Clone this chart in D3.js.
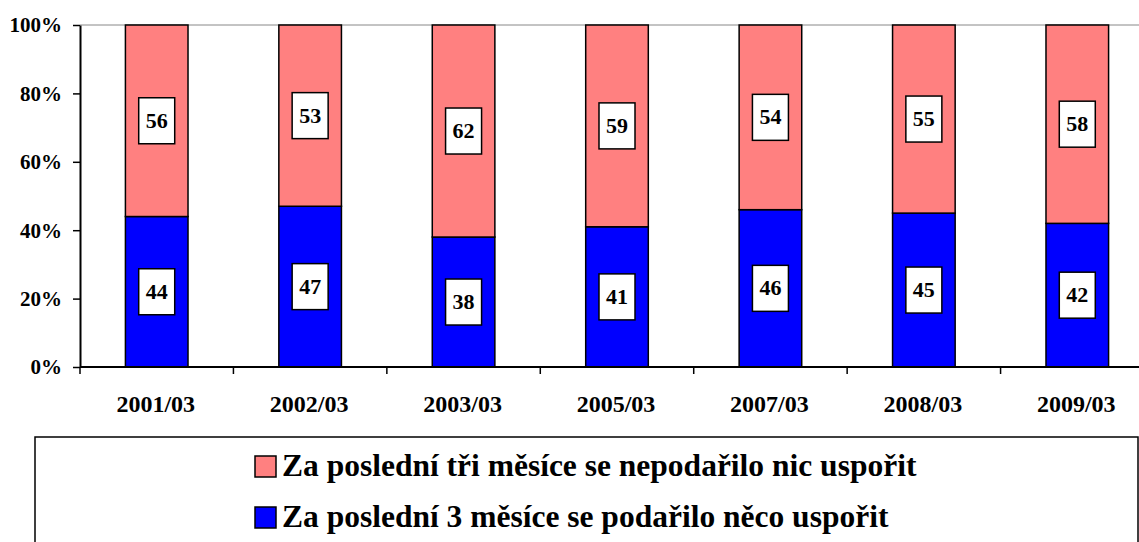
<!DOCTYPE html>
<html><head><meta charset="utf-8">
<script src="https://cdn.jsdelivr.net/npm/d3@7"></script>
<style>body{margin:0;background:#fff}svg{display:block}</style>
</head><body><svg id="c" width="1139" height="542"></svg>
<script>
const categories = ["2001/03","2002/03","2003/03","2005/03","2007/03","2008/03","2009/03"];
const saved = [44,47,38,41,46,45,42];
const notSaved = [56,53,62,59,54,55,58];
const yTicks = [0,20,40,60,80,100];
const legendLabels = ["Za poslední tři měsíce se nepodařilo nic uspořit","Za poslední 3 měsíce se podařilo něco uspořit"];
const colors = {saved:"#0000ff", notSaved:"#ff8080"};

(function(){
const FONT = "'Liberation Serif', 'Times New Roman', serif";
const svg = d3.select("#c");
const mLeft = 80, mRight = 1154, mTop = 25, mBottom = 367;
const x = d3.scaleBand().domain(categories).range([mLeft, mRight]).paddingInner(0.592).paddingOuter(0.296);
const xb = d3.scaleBand().domain(categories).range([mLeft, mRight]);
const y = d3.scaleLinear().domain([0,100]).range([mBottom, mTop]);

svg.append("line").attr("x1", mLeft).attr("x2", 1139).attr("y1", y(100)).attr("y2", y(100)).attr("stroke", "#888").attr("stroke-width", 1);

const data = categories.map((c,i)=>({c, s:saved[i], n:notSaved[i]}));
const g = svg.append("g");
data.forEach(d=>{
  g.append("rect").attr("x", x(d.c)).attr("width", x.bandwidth()).attr("y", y(d.s)).attr("height", y(0)-y(d.s))
    .attr("fill", colors.saved).attr("stroke","#000").attr("stroke-width",1.5);
  g.append("rect").attr("x", x(d.c)).attr("width", x.bandwidth()).attr("y", y(100)).attr("height", y(d.s)-y(100))
    .attr("fill", colors.notSaved).attr("stroke","#000").attr("stroke-width",1.5);
});
data.forEach(d=>{
  const cx = x(d.c) + x.bandwidth()/2;
  [[d.s/2, d.s],[d.s + d.n/2, d.n]].forEach(([pos,val])=>{
    const cy = y(pos);
    g.append("rect").attr("x", cx-18).attr("y", cy-23).attr("width", 36).attr("height", 46)
      .attr("fill","#fff").attr("stroke","#000").attr("stroke-width",1.5);
    g.append("text").attr("x", cx).attr("y", cy+7).attr("text-anchor","middle")
      .style("font-family",FONT).style("font-weight","bold").style("font-size","22px").text(val);
  });
});

const yAxis = d3.axisLeft(y).tickValues(yTicks).tickFormat(d=>d+"%").tickSize(7).tickSizeOuter(0);
const ya = svg.append("g").attr("transform",`translate(${mLeft},0)`).call(yAxis);
ya.select(".domain").attr("stroke","#000").attr("stroke-width",2);
ya.selectAll(".tick line").attr("stroke","#000").attr("stroke-width",1.5);
ya.selectAll(".tick text").attr("fill","#000").attr("x",-18).attr("dy","0.33em")
  .style("font-family",FONT).style("font-weight","bold").style("font-size","21px");

const xa = svg.append("g").attr("transform",`translate(0,${mBottom})`);
xa.append("line").attr("x1", mLeft).attr("x2", 1139).attr("y1",0).attr("y2",0).attr("stroke","#000").attr("stroke-width",2);
categories.forEach((c,i)=>{
  xa.append("line").attr("x1", xb(c)).attr("x2", xb(c)).attr("y1",0).attr("y2",7).attr("stroke","#000").attr("stroke-width",1.5);
  xa.append("text").attr("x", xb(c)+xb.bandwidth()/2 - 1).attr("y", 45).attr("text-anchor","middle")
    .style("font-family",FONT).style("font-weight","bold").style("font-size","24px").text(c);
});

const lg = svg.append("g");
lg.append("rect").attr("x",35).attr("y",437).attr("width",1103).attr("height",120).attr("fill","#fff").attr("stroke","#000").attr("stroke-width",1.5);
const lcolors = [colors.notSaved, colors.saved];
legendLabels.forEach((t,i)=>{
  const yy = 456 + i*51;
  lg.append("rect").attr("x",255).attr("y",yy).attr("width",21).attr("height",21).attr("fill",lcolors[i]).attr("stroke","#000").attr("stroke-width",1.5);
  lg.append("text").attr("x",282).attr("y",yy+20)
    .style("font-family",FONT).style("font-weight","bold").style("font-size","31.5px").text(t);
});
})();
</script></body></html>
